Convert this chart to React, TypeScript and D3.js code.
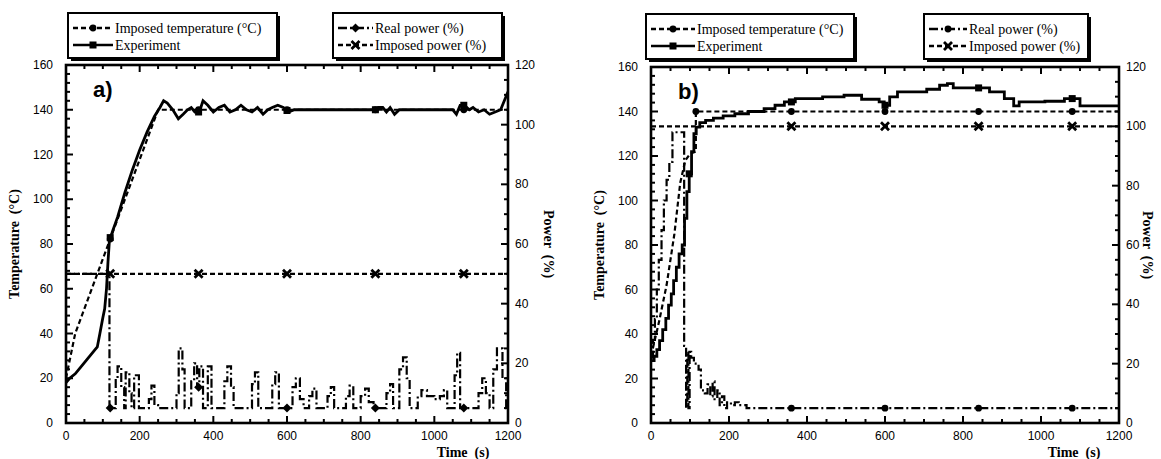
import React from 'react'
import * as d3 from 'd3'

type Pt = [number, number]

const timeTicks = [0, 200, 400, 600, 800, 1000, 1200]
const tempTicks = [0, 20, 40, 60, 80, 100, 120, 140, 160]
const powerTicks = [0, 20, 40, 60, 80, 100, 120]
const markerTimes = [120, 360, 600, 840, 1080]

// panel a) - temperatures in degC, power in %
const aImposedTemp: Pt[] = [[0, 20], [25, 40], [250, 140], [1200, 140]]
const aExperiment: Pt[] = [
  [0, 18], [10, 20], [25, 22], [40, 25], [55, 28], [70, 31], [85, 34], [92, 40], [100, 47], [105, 51],
  [110, 60], [114, 72], [118, 82], [125, 85], [140, 92], [160, 103], [180, 113], [200, 122], [220, 130],
  [240, 137], [255, 141], [265, 144], [275, 143], [290, 140], [305, 136], [318, 138], [330, 140], [340, 141],
  [350, 139], [362, 139], [372, 144], [385, 142], [400, 139], [415, 141], [430, 142], [445, 139], [460, 140],
  [475, 142], [490, 140], [505, 139], [520, 141], [535, 138], [548, 140], [560, 141], [575, 142], [590, 141],
  [605, 139], [620, 140], [840, 140], [848, 141], [860, 141], [870, 139], [880, 141], [892, 138], [905, 140],
  [1050, 140], [1060, 138], [1070, 142], [1082, 142], [1095, 140], [1105, 141], [1120, 139], [1135, 140],
  [1150, 138], [1165, 139], [1180, 140], [1190, 144], [1200, 148],
]
const aRealPower: Pt[] = [
  [0, 50], [118, 5], [135, 15], [140, 19], [150, 12], [158, 5], [162, 17], [172, 10], [178, 5], [185, 16],
  [198, 5], [225, 8], [232, 12.5], [240, 6], [250, 5], [300, 10], [306, 25], [316, 18], [322, 5], [340, 14],
  [348, 20], [356, 12], [362, 19], [372, 5], [385, 19], [395, 5], [430, 14], [438, 19], [448, 12], [455, 5],
  [505, 13], [513, 17], [522, 5], [560, 13], [568, 17], [578, 5], [615, 12], [624, 15], [635, 8], [645, 5],
  [660, 9], [669, 11.5], [680, 5], [710, 9], [719, 12], [728, 5], [760, 9], [770, 12.5], [780, 5], [800, 9],
  [812, 11.5], [822, 7], [835, 5], [870, 10], [880, 13], [888, 5], [905, 18], [915, 22], [925, 15], [933, 5],
  [955, 9], [965, 11], [980, 9], [1000, 8], [1015, 9], [1026, 11], [1035, 5], [1055, 16], [1062, 23.5],
  [1070, 5], [1120, 10], [1130, 15], [1140, 10], [1150, 5], [1160, 18], [1170, 25], [1185, 15], [1195, 5],
  [1200, 5],
]
const aImposedPower: Pt[] = [[0, 50], [1200, 50]]

// panel b)
const bImposedTemp: Pt[] = [
  [0, 30], [20, 45], [40, 62], [60, 85], [75, 108], [88, 118], [100, 121], [115, 122], [115, 140], [1200, 140],
]
const bExperiment: Pt[] = [
  [0, 28], [8, 30], [15, 33], [22, 37], [30, 42], [38, 47], [45, 53], [52, 58], [58, 64], [65, 70], [72, 76],
  [80, 80], [86, 92], [92, 104], [98, 112], [104, 122], [110, 130], [116, 133], [125, 135], [140, 136],
  [160, 137], [185, 138], [215, 139], [250, 140], [290, 141.3], [318, 142.8], [342, 144.3], [370, 145.8],
  [440, 146.6], [495, 147.3], [540, 145.5], [585, 144.3], [598, 142.8], [612, 146.6], [632, 148.8],
  [707, 150], [740, 151.8], [760, 152.5], [775, 150.6], [868, 148.8], [906, 145.8], [930, 142.5],
  [944, 144.3], [1010, 144.6], [1060, 145.8], [1100, 142.5], [1200, 142.5],
]
const bRealPower: Pt[] = [
  [0, 22], [5, 28], [10, 35], [15, 45], [20, 55], [27, 65], [33, 75], [40, 82], [47, 88], [55, 98],
  [85, 26], [90, 5], [93, 24], [96, 5], [99, 24], [103, 22], [110, 20], [122, 18], [128, 11], [138, 10],
  [145, 13], [152, 9], [158, 14], [163, 8], [170, 11], [176, 6], [182, 9], [188, 5], [195, 7], [205, 6],
  [215, 7], [225, 6], [245, 5], [1200, 5],
]
const bImposedPower: Pt[] = [[0, 100], [1200, 100]]

const legendTexts = [
  ['Imposed temperature (°C)', 'Experiment'],
  ['Real power (%)', 'Imposed power (%)'],
]

type Series = {
  data: Pt[]
  axis: 'T' | 'P'
  step: boolean
  dash: string
  width: number
  marker: string
  at: number[]
}

const valueAt = (d: Pt[], t: number, step: boolean) => {
  for (let i = d.length - 1; i >= 0; i--) {
    if (d[i][0] <= t) {
      if (step || i === d.length - 1) return d[i][1]
      const [t0, v0] = d[i]
      const [t1, v1] = d[i + 1]
      return t1 === t0 ? v1 : v0 + ((v1 - v0) * (t - t0)) / (t1 - t0)
    }
  }
  return d[0][1]
}

const Marker = ({ kind, cx, cy }: { kind: string; cx: number; cy: number }) => {
  if (kind === 'circle') return <circle cx={cx} cy={cy} r={3.4} fill="#000" />
  if (kind === 'square') return <rect x={cx - 3.5} y={cy - 3.5} width={7} height={7} fill="#000" />
  if (kind === 'diamond')
    return <path d={`M${cx},${cy - 4.5}L${cx + 4.5},${cy}L${cx},${cy + 4.5}L${cx - 4.5},${cy}Z`} fill="#000" />
  if (kind === 'x')
    return (
      <path
        d={`M${cx - 4},${cy - 4}L${cx + 4},${cy + 4}M${cx + 4},${cy - 4}L${cx - 4},${cy + 4}`}
        stroke="#000"
        strokeWidth={2.8}
      />
    )
  return null
}

type Geo = { left: number; right: number; top: number; bottom: number; powerTitleX: number }
type Box = { x: number; y: number; w: number; h: number; textX: number }

const Legend = ({ box, texts, styles }: { box: Box; texts: string[]; styles: Series[] }) => (
  <g>
    <rect x={box.x + 3} y={box.y + 3} width={box.w} height={box.h} fill="#000" />
    <rect x={box.x} y={box.y} width={box.w} height={box.h} fill="#fff" stroke="#000" strokeWidth={2} />
    {texts.map((t, i) => {
      const cy = box.y + 15 + i * 17
      const x0 = box.x + 5
      const x1 = box.textX - 2
      return (
        <g key={t}>
          <line x1={x0} x2={x1} y1={cy} y2={cy} stroke="#000" strokeWidth={2.4} strokeDasharray={styles[i].dash} />
          <Marker kind={styles[i].marker} cx={(x0 + x1) / 2} cy={cy} />
          <text
            x={box.textX}
            y={cy + 4.5}
            fontFamily="'Liberation Serif', 'Times New Roman', serif"
            fontSize={14}
          >
            {t}
          </text>
        </g>
      )
    })}
  </g>
)

const Panel = ({
  id, g, label, series, boxes,
}: { id: string; g: Geo; label: string; series: Series[]; boxes: Box[] }) => {
  const x = d3.scaleLinear().domain([0, 1200]).range([g.left, g.right])
  const yT = d3.scaleLinear().domain([0, 160]).range([g.bottom, g.top])
  const yP = d3.scaleLinear().domain([0, 120]).range([g.bottom, g.top])
  const sans = "'Liberation Sans', Arial, sans-serif"
  const serif = "'Liberation Serif', 'Times New Roman', serif"
  const midY = (g.top + g.bottom) / 2

  return (
    <g>
      <defs>
        <clipPath id={`clip-${id}`}>
          <rect x={g.left} y={g.top - 6} width={g.right - g.left} height={g.bottom - g.top + 6} />
        </clipPath>
      </defs>

      {/* ticks */}
      {d3.range(0, 1201, 50).map((t) => {
        const len = t % 200 === 0 ? 7 : 4
        return (
          <g key={'x' + t}>
            <line x1={x(t)} x2={x(t)} y1={g.bottom} y2={g.bottom - len} stroke="#000" strokeWidth={2} />
            <line x1={x(t)} x2={x(t)} y1={g.top} y2={g.top + len} stroke="#000" strokeWidth={2} />
          </g>
        )
      })}
      {d3.range(0, 161, 4).map((v) => (
        <line key={'l' + v} x1={g.left} x2={g.left + (v % 20 === 0 ? 7 : 4)} y1={yT(v)} y2={yT(v)}
          stroke="#000" strokeWidth={2} />
      ))}
      {d3.range(0, 121, 5).map((v) => (
        <line key={'r' + v} x1={g.right} x2={g.right - (v % 20 === 0 ? 7 : 4)} y1={yP(v)} y2={yP(v)}
          stroke="#000" strokeWidth={2} />
      ))}

      {/* tick labels */}
      {timeTicks.map((t) => (
        <text key={'xt' + t} x={x(t)} y={g.bottom + 17} textAnchor="middle" fontFamily={sans} fontSize={12}>
          {t}
        </text>
      ))}
      {tempTicks.map((v) => (
        <text key={'lt' + v} x={g.left - 13} y={yT(v) + 4} textAnchor="end" fontFamily={sans} fontSize={12}>
          {v}
        </text>
      ))}
      {powerTicks.map((v) => (
        <text key={'rt' + v} x={g.right + 7} y={yP(v) + 4} fontFamily={sans} fontSize={12}>
          {v}
        </text>
      ))}

      {/* data */}
      <g clipPath={`url(#clip-${id})`}>
        {series.map((s, i) => {
          const y = s.axis === 'T' ? yT : yP
          const line = d3
            .line<Pt>()
            .x((d) => x(d[0]))
            .y((d) => y(d[1]))
            .curve(s.step ? d3.curveStepAfter : d3.curveLinear)
          return (
            <g key={i}>
              <path d={line(s.data) || ''} fill="none" stroke="#000" strokeWidth={s.width}
                strokeDasharray={s.dash} />
              {s.at.map((t) => (
                <Marker key={t} kind={s.marker} cx={x(t)} cy={y(valueAt(s.data, t, s.step))} />
              ))}
            </g>
          )
        })}
      </g>

      {/* frame */}
      <rect x={g.left} y={g.top} width={g.right - g.left} height={g.bottom - g.top} fill="none"
        stroke="#000" strokeWidth={2.6} />

      <text x={g.left + 27} y={g.top + 32} fontFamily={sans} fontWeight="bold" fontSize={22}>
        {label}
      </text>

      {/* axis titles */}
      <text x={g.right - 45} y={g.bottom + 34} textAnchor="middle" fontFamily={serif} fontWeight="bold" fontSize={14}
        style={{ whiteSpace: 'pre' }}>
        Time  (s)
      </text>
      <text transform={`translate(${g.left - 47},${midY}) rotate(-90)`} textAnchor="middle" fontFamily={serif}
        fontWeight="bold" fontSize={14} style={{ whiteSpace: 'pre' }}>
        Temperature  (°C)
      </text>
      <text transform={`translate(${g.powerTitleX},${midY}) rotate(90)`} textAnchor="middle" fontFamily={serif}
        fontWeight="bold" fontSize={14} style={{ whiteSpace: 'pre' }}>
        Power  (%)
      </text>

      <Legend box={boxes[0]} texts={legendTexts[0]} styles={[series[0], series[1]]} />
      <Legend box={boxes[1]} texts={legendTexts[1]} styles={[series[2], series[3]]} />
    </g>
  )
}

const dashed = '5 3'
const dashDot = '9 3 2 3'

const seriesA: Series[] = [
  { data: aImposedTemp, axis: 'T', step: false, dash: dashed, width: 2.2, marker: 'circle', at: markerTimes },
  { data: aExperiment, axis: 'T', step: false, dash: '', width: 2.8, marker: 'square', at: markerTimes },
  { data: aRealPower, axis: 'P', step: true, dash: dashDot, width: 2.2, marker: 'diamond', at: markerTimes },
  { data: aImposedPower, axis: 'P', step: false, dash: dashed, width: 2.2, marker: 'x', at: markerTimes },
]

const seriesB: Series[] = [
  { data: bImposedTemp, axis: 'T', step: false, dash: dashed, width: 2.2, marker: 'circle', at: [115, 360, 600, 840, 1080] },
  { data: bExperiment, axis: 'T', step: true, dash: '', width: 2.8, marker: 'square', at: [98, 360, 600, 840, 1080] },
  { data: bRealPower, axis: 'P', step: true, dash: dashDot, width: 2.2, marker: 'circle', at: [360, 600, 840, 1080] },
  { data: bImposedPower, axis: 'P', step: false, dash: dashed, width: 2.2, marker: 'x', at: [360, 600, 840, 1080] },
]

export default function App() {
  return (
    <svg width={1161} height={459} style={{ position: 'absolute', left: 0, top: 0, background: '#fff' }}>
      <Panel
        id="a"
        g={{ left: 66, right: 508, top: 65, bottom: 423, powerTitleX: 544 }}
        label="a)"
        series={seriesA}
        boxes={[
          { x: 68, y: 13, w: 209, h: 45, textX: 115 },
          { x: 333, y: 13, w: 169, h: 45, textX: 375 },
        ]}
      />
      <Panel
        id="b"
        g={{ left: 651, right: 1119, top: 67, bottom: 423, powerTitleX: 1143 }}
        label="b)"
        series={seriesB}
        boxes={[
          { x: 646, y: 14, w: 208, h: 45, textX: 697 },
          { x: 924, y: 14, w: 164, h: 45, textX: 969 },
        ]}
      />
    </svg>
  )
}
